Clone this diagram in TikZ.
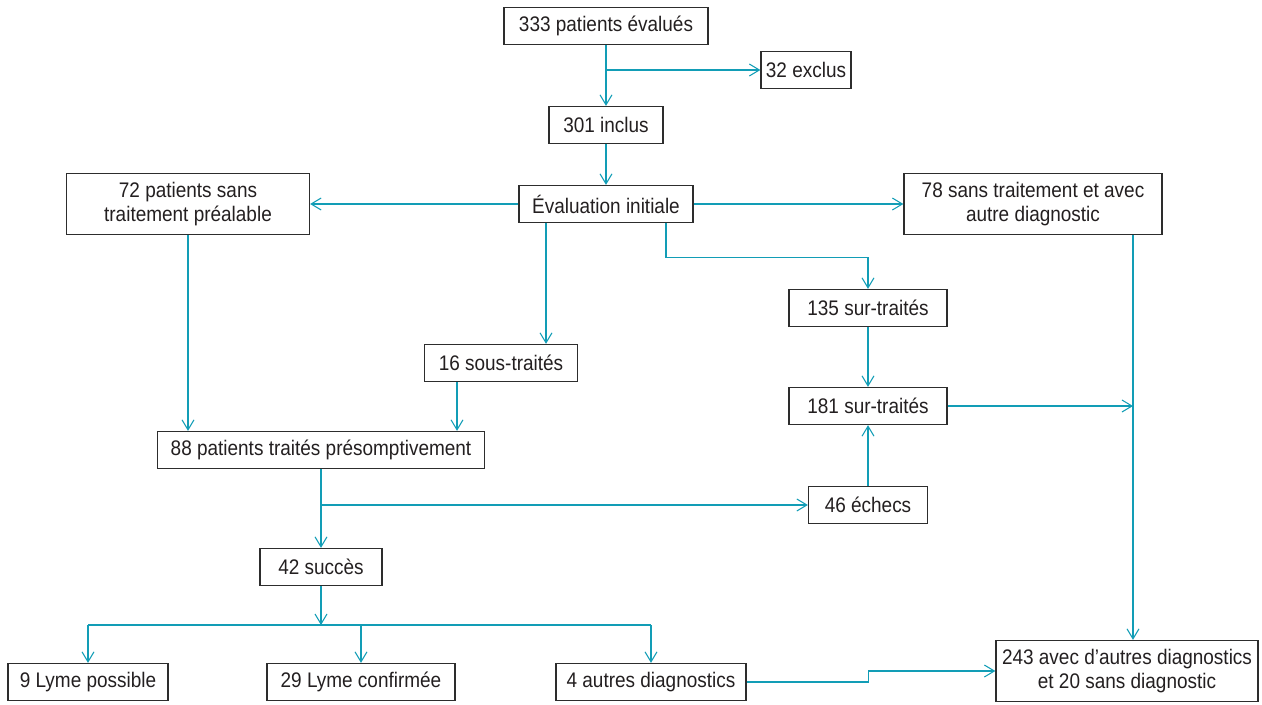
\documentclass[tikz,border=0pt]{standalone}
\usepackage{fontspec}
\setmainfont{Liberation Sans}[FakeStretch=0.9]
\definecolor{flowteal}{RGB}{18,157,182}
\definecolor{boxgray}{RGB}{45,45,45}
\definecolor{txtgray}{RGB}{35,31,32}
\usepackage{tikz}
\usetikzlibrary{arrows.meta, positioning, calc}

\begin{document}
\begin{tikzpicture}[
  x=0.02cm, y=-0.02cm,
  box/.style={draw=boxgray, line width=0.75pt, minimum height=0.74cm, inner sep=2pt, align=center,
    text=txtgray, font=\fontsize{12}{13.7}\selectfont},
  arr/.style={-{Straight Barb[length=2mm, width=2.4mm]}, flowteal, line width=0.6pt},
  link/.style={flowteal, line width=0.6pt},
]
  \useasboundingbox (0,0) rectangle (1262,704);

  \node[box, minimum width=4.08cm] (evalues) at (606,26) {333 patients évalués};
  \node[box, minimum width=1.80cm] (exclus) at (806,70) {32 exclus};
  \node[box, minimum width=2.28cm] (inclus) at (606,125) {301 inclus};
  \node[box, minimum width=3.48cm] (initiale) at (606,204) {Évaluation initiale};
  \node[box, minimum width=4.86cm, minimum height=1.22cm] (sanstrt) at (188,204) {72 patients sans\\traitement préalable};
  \node[box, minimum width=5.16cm, minimum height=1.22cm] (autrediag) at (1033,204) {78 sans traitement et avec\\autre diagnostic};
  \node[box, minimum width=3.06cm] (soustr) at (501,363) {16 sous-traités};
  \node[box, minimum width=3.16cm] (surtr) at (868,308) {135 sur-traités};
  \node[box, minimum width=3.16cm] (surtot) at (868,406) {181 sur-traités};
  \node[box, minimum width=6.54cm] (presompt) at (321,450) {88 patients traités présomptivement};
  \node[box, minimum width=2.38cm] (echecs) at (868,505) {46 échecs};
  \node[box, minimum width=2.44cm] (succes) at (321,567) {42 succès};
  \node[box, minimum width=3.20cm] (possible) at (88,682) {9 Lyme possible};
  \node[box, minimum width=3.76cm] (confirme) at (361,682) {29 Lyme confirmée};
  \node[box, minimum width=3.80cm] (autres) at (651,682) {4 autres diagnostics};
  \node[box, minimum width=5.24cm, minimum height=1.22cm] (bilan) at (1127,671) {243 avec d’autres diagnostics\\et 20 sans diagnostic};

  \coordinate (rail) at (1133,235);
  \coordinate (bus) at (321,625);

  \draw[arr] (evalues) -- (inclus);
  \draw[arr] (evalues.south |- exclus.west) -- (exclus.west);
  \draw[arr] (inclus) -- (initiale);
  \draw[arr] (initiale.west) -- (sanstrt.east);
  \draw[arr] (initiale.east) -- (autrediag.west);
  \draw[arr] ([xshift=-1.2cm]initiale.south) -- ([xshift=-1.2cm]initiale.south |- soustr.north);
  \draw[arr] ([xshift=1.2cm]initiale.south) -- ++(0,34) -| (surtr.north);
  \draw[arr] (surtr) -- (surtot);
  \draw[arr] (surtot.east) -- (surtot.east -| rail);
  \draw[arr] (rail) -- (rail |- bilan.north);

  \draw[arr] (sanstrt.south) -- (sanstrt.south |- presompt.north);
  \draw[arr] ([xshift=-0.88cm]soustr.south) -- ([xshift=-0.88cm]soustr.south |- presompt.north);
  \draw[arr] (presompt) -- (succes);
  \draw[arr] (presompt.south |- echecs.west) -- (echecs.west);
  \draw[arr] (echecs) -- (surtot);

  % Outcomes of the successes
  \draw[arr] (succes.south) -- (bus);
  \draw[link] (possible.north |- bus) -- (autres.north |- bus);
  \foreach \outc in {possible, confirme, autres}
    \draw[arr] (\outc.north |- bus) -- (\outc.north);
  \draw[arr] (autres.east) -- ++(122,0) |- (bilan.west);
\end{tikzpicture}
\end{document}
